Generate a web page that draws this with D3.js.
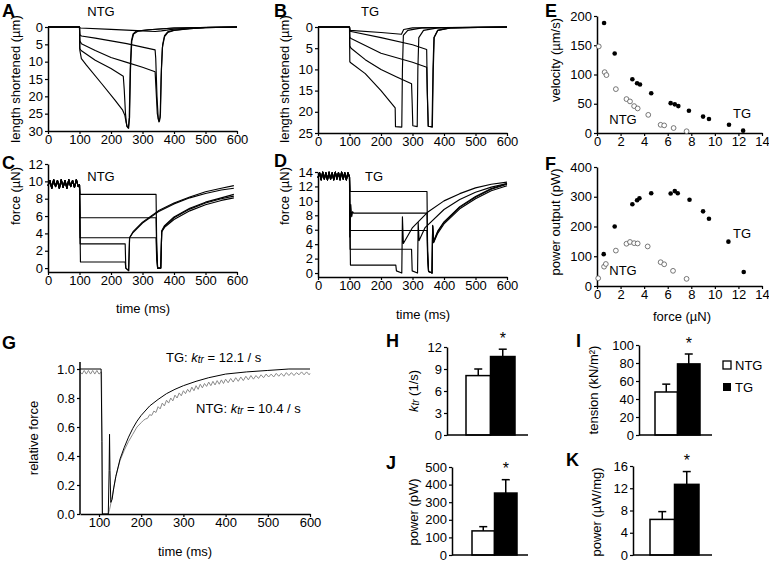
<!DOCTYPE html>
<html><head><meta charset="utf-8">
<script src="https://cdn.jsdelivr.net/npm/d3@7/dist/d3.min.js"></script>
<style>
body{margin:0;background:#fff}
svg text{font-family:"Liberation Sans",Arial,Helvetica,sans-serif;fill:#000}
</style></head><body>
<svg id="fig" width="769" height="564"></svg>
<script>
// ---------------- DATA ----------------
const timeTicks = [0,100,200,300,400,500,600];
const lengthTicksA = [0,5,10,15,20,25,30];
const lengthTicksB = [0,5,10,15,20,25];
const forceTicksC = [0,2,4,6,8,10,12];
const forceTicksD = [0,2,4,6,8,10,12,14];
const forceTicksEF = [0,2,4,6,8,10,12,14];
const velocityTicks = [0,50,100,150,200];
const powerTicks = [0,100,200,300,400];
const relTicks = [0,0.2,0.4,0.6,0.8,1.0];
const gTimeTicks = [100,200,300,400,500,600];

// A: NTG length shortened traces [ms, µm]
const ntgLength1 = [[0,0],[100,0],[102,0.3],[200,0.7],[300,1.1],[340,1.3],[360,1.1],[400,0.6],[450,0.3],[500,0.1],[600,0]];
const ntgLength2 = [[0,0],[100,0],[101,2.2],[106,2.6],[150,3.2],[200,4.0],[250,4.8],[300,5.8],[340,6.6],[342,9],[346,20],[350,26.5],[354,27.2],[357,25],[360,12],[364,5],[370,2.5],[380,1.4],[400,0.9],[450,0.5],[500,0.2],[600,0]];
const ntgLength3 = [[0,0],[100,0],[101,4],[106,4.8],[150,6.8],[200,8.8],[250,10.2],[300,11.6],[340,12.9],[343,18],[347,25],[352,27.4],[356,26],[359,15],[363,6],[370,2.8],[380,1.6],[400,1.0],[450,0.5],[500,0.2],[600,0]];
const ntgLength4 = [[0,0],[100,0],[101,6.2],[105,6.8],[150,9.6],[200,12.0],[239,14.2],[242,18],[246,25],[250,28.6],[255,29.2],[258,26],[261,12],[265,4],[270,2],[280,1.2],[320,0.8],[400,0.3],[600,0]];
const ntgLength5 = [[0,0],[100,0],[101,6.7],[106,9.1],[122,11],[170,16.3],[212,21],[237,24],[244,25.5],[248,27.5],[252,28.8],[256,29.2],[259,26],[262,12],[266,4],[272,2],[285,1.2],[320,0.8],[400,0.3],[600,0]];

// B: TG length shortened traces
const tgLength1 = [[0,0],[100,0],[102,0.8],[200,1.3],[265,1.7],[272,0.6],[300,0.2],[600,0]];
const tgLength2 = [[0,0],[100,0],[101,1.0],[200,2.5],[300,4.2],[345,5.3],[347,15],[350,23.4],[362,23.5],[365,10],[368,2.5],[380,0.8],[420,0.2],[600,0]];
const tgLength3 = [[0,0],[100,0],[101,2.5],[105,2.7],[200,6.2],[300,8.3],[345,9.5],[347,16],[350,23.4],[363,23.6],[366,10],[369,2.5],[380,0.8],[420,0.2],[600,0]];
const tgLength4 = [[0,0],[100,0],[101,4.5],[105,5],[150,7.7],[200,10.0],[250,11.8],[297,13.4],[299,18],[301,23.3],[315,23.5],[317,10],[320,2.5],[335,0.8],[380,0.2],[600,0]];
const tgLength5 = [[0,0],[100,0],[101,8.2],[105,8.5],[150,11],[200,15],[245,19.1],[246,23.5],[266,23.6],[268,10],[271,2],[285,0.8],[330,0.2],[600,0]];

// C: NTG force traces [ms, µN]
const ntgPre = [[0,9.5],[6,10.1],[12,9.2],[18,10.2],[24,9.4],[30,10.1],[36,9.2],[42,10.2],[48,9.3],[54,10.1],[60,9.2],[66,10.2],[72,9.4],[78,10.1],[84,9.3],[90,10.2],[96,9.4],[100,9.6]];
const ntgForce1 = [[102,8.5],[343,8.5],[345,3],[348,0],[358,0],[361,4.2],[370,4.8],[400,5.8],[450,6.8],[500,7.5],[550,8.0],[590,8.3]];
const ntgForce2 = [[102,5.8],[343,5.8],[345,2],[348,0],[358,0],[361,4.2],[370,4.7],[400,5.6],[450,6.6],[500,7.3],[550,7.8],[590,8.1]];
const ntgForce3 = [[102,3.5],[343,3.5],[345,1],[348,0],[358,0],[361,4.3],[370,4.9],[400,5.9],[450,6.9],[500,7.6],[550,8.1],[590,8.5]];
const ntgForce4 = [[102,2.8],[245,2.8],[247,0],[256,-0.3],[259,3.5],[270,4.2],[300,5.3],[350,6.6],[400,7.5],[450,8.2],[500,8.8],[550,9.2],[590,9.5]];
const ntgForce5 = [[103,0.7],[245,0.7],[247,0],[256,-0.3],[259,3.5],[270,4.1],[300,5.2],[350,6.5],[400,7.4],[450,8.1],[500,8.6],[550,9.0],[590,9.2]];

// D: TG force traces
const tgPre = [[0,13.2],[5,13.9],[10,12.9],[15,14],[20,13],[25,13.9],[30,12.9],[35,14],[40,13],[45,13.9],[50,12.9],[55,14],[60,13],[65,13.9],[70,12.9],[75,14],[80,13],[85,13.9],[90,12.9],[95,13.9],[100,13.3]];
const tgForce1 = [[102,11.3],[346,11.3],[348,3],[351,0.2],[362,0],[364,6.5],[367,4.2],[380,5.5],[400,6.8],[450,8.9],[500,10.3],[550,11.4],[600,12.1]];
const tgForce2 = [[101,5],[104,9.5],[107,7.8],[110,8.5],[113,8.3],[346,8.3],[348,3],[351,0.2],[362,0],[364,6.5],[367,4.3],[380,5.7],[400,7.0],[450,9.1],[500,10.5],[550,11.6],[600,12.3]];
const tgForce3 = [[102,5.9],[346,5.9],[348,2],[351,0.2],[362,0],[364,6.6],[367,4.4],[380,5.8],[400,7.1],[450,9.2],[500,10.6],[550,11.7],[600,12.4]];
const tgForce4 = [[102,3.3],[297,3.3],[299,0.3],[316,0],[318,7],[321,4.5],[340,6.3],[400,8.8],[450,10.2],[500,11.2],[550,11.9],[600,12.4]];
const tgForce5 = [[103,1.1],[247,1.1],[249,0.3],[266,0],[268,7.8],[271,4.1],[300,6.3],[350,8.5],[400,10.0],[450,11.0],[500,11.8],[550,12.3],[600,12.6]];

// E/F: force-velocity & force-power
const tgForce = [0.6,1.5,3.0,3.4,3.65,4.6,6.25,6.6,6.9,7.8,9.0,9.5,11.2,12.4];
const tgVelocity = [188,136,92,85,83,68,51,49,46,38,28,24,14,4];
const ntgForcePts = [0.15,0.65,0.8,1.6,2.5,2.8,3.15,3.45,4.35,5.4,5.7,6.5,7.6];
const ntgVelocity = [148,104,99,75,58,54,46,42,31,14,13,8.5,3];
const tgPowerForce = [0.57,1.5,3.0,3.4,3.6,4.6,6.25,6.6,6.85,7.85,9.0,9.5,11.15,12.45];
const tgPower = [107,200,275,288,295,312,311,319,312,290,251,226,149,47];
const ntgPowerForce = [0.1,0.6,0.75,1.6,2.5,2.8,3.15,3.45,4.3,5.4,5.7,6.45,7.6];
const ntgPower = [26,65,74,119,142,148,144,143,133,80,73,51,24];

// G: relative force redevelopment
const gTG = [[55,1.0],[105,1.0],[107,0.5],[108,0.0],[122,0.0],[124,0.3],[125,0.55],[126,0.3],[128,0.08],[131,0.1],[135,0.18],[140,0.26],[150,0.38],[160,0.46],[170,0.53],[180,0.59],[190,0.64],[200,0.68],[220,0.745],[240,0.79],[260,0.83],[280,0.86],[300,0.885],[330,0.915],[360,0.94],[400,0.965],[450,0.98],[500,0.99],[550,1.0],[600,1.0]];
const gNTG = [[55,0.98],[60,0.965],[65,0.99],[70,0.965],[75,0.99],[80,0.965],[85,0.99],[90,0.965],[95,0.99],[100,0.965],[106,0.98],[108,0],[122,0],[125,0.03],[130,0.1],[140,0.26],[150,0.37],[160,0.44],[170,0.5],[180,0.55],[190,0.6],[200,0.63],[205,0.645],[210,0.655],[215,0.66],[220,0.685],[225,0.68],[230,0.71],[235,0.70],[240,0.74],[245,0.725],[250,0.765],[255,0.745],[260,0.785],[265,0.765],[270,0.80],[275,0.78],[280,0.82],[285,0.80],[290,0.835],[295,0.815],[300,0.85],[305,0.83],[310,0.86],[315,0.84],[320,0.875],[325,0.85],[330,0.885],[335,0.86],[340,0.895],[345,0.87],[350,0.90],[355,0.88],[360,0.91],[365,0.885],[370,0.915],[375,0.89],[380,0.92],[385,0.895],[390,0.925],[395,0.90],[400,0.93],[406,0.905],[412,0.935],[418,0.91],[424,0.94],[430,0.915],[436,0.945],[442,0.92],[448,0.95],[454,0.925],[460,0.955],[466,0.93],[472,0.955],[478,0.935],[484,0.96],[490,0.94],[496,0.965],[502,0.945],[508,0.965],[514,0.945],[520,0.97],[526,0.95],[532,0.97],[538,0.95],[544,0.975],[550,0.955],[556,0.975],[562,0.955],[568,0.975],[574,0.96],[580,0.98],[586,0.96],[592,0.98],[598,0.96],[600,0.97]];

// H-K: bar charts
const groups = ["NTG","TG"];
const ktrMean = [8.1,10.7], ktrErr = [0.9,1.0];
const tensionMean = [47.8,79], tensionErr = [8.7,11];
const powerMean = [137,352], powerErr = [24,76];
const powerMassMean = [6.4,12.7], powerMassErr = [1.4,2.3];
const ktrTicks = [0,3,6,9,12];
const tensionTicks = [0,20,40,60,80,100];
const powerBarTicks = [0,100,200,300,400,500];
const powerMassTicks = [0,4,8,12,16];

// ---------------- DRAW ----------------
const svg = d3.select("#fig");
const FS = 13;

function styleAxis(g){
  g.select(".domain").attr("stroke","#000").attr("stroke-width",1.5);
  g.selectAll(".tick line").attr("stroke","#000").attr("stroke-width",1.2);
  g.selectAll(".tick text").attr("font-size",FS).attr("fill","#000")
   .style("font-family",'"Liberation Sans",Arial,sans-serif');
}
function xAxis(scale, yPos, ticks, fmt){
  const g = svg.append("g").attr("transform",`translate(0,${yPos})`)
    .call(d3.axisBottom(scale).tickValues(ticks).tickSize(3).tickSizeOuter(0).tickPadding(1).tickFormat(fmt||d3.format("d")));
  styleAxis(g); return g;
}
function yAxis(scale, xPos, ticks, fmt){
  const g = svg.append("g").attr("transform",`translate(${xPos},0)`)
    .call(d3.axisLeft(scale).tickValues(ticks).tickSize(3).tickSizeOuter(0).tickPadding(2).tickFormat(fmt||d3.format("d")));
  styleAxis(g); return g;
}
function label(txt,x,y,opts={}){
  const t = svg.append("text").attr("x",x).attr("y",y).attr("font-size",opts.size||FS)
    .attr("text-anchor",opts.anchor||"middle").attr("dominant-baseline","central");
  if(opts.bold) t.attr("font-weight","bold");
  if(opts.rotate) t.attr("transform",`rotate(-90,${x},${y})`);
  t.text(txt); return t;
}
function panel(letter,x,y){ svg.append("text").attr("x",x).attr("y",y).attr("font-size",18).attr("font-weight","bold").text(letter); }
function traces(list, xs, ys, color, w){
  const line = d3.line().x(d=>xs(d[0])).y(d=>ys(d[1]));
  list.forEach(tr=>svg.append("path").attr("d",line(tr)).attr("fill","none").attr("stroke",color||"#000").attr("stroke-width",w||1.15).attr("stroke-linejoin","round"));
}

// Panel A
{
  const x = d3.scaleLinear([0,600],[48,237]);
  const y = d3.scaleLinear([0,30],[27,131]);
  traces([ntgLength1,ntgLength2,ntgLength3,ntgLength4,ntgLength5],x,y);
  xAxis(x,131,timeTicks); yAxis(y,48,lengthTicksA);
  panel("A",2,17); label("NTG",101,11,{size:13});
  label("length shortened (\u00b5m)",15,79,{rotate:true});
}
// Panel B
{
  const x = d3.scaleLinear([0,600],[318,507]);
  const y = d3.scaleLinear([0,25],[27,133]);
  traces([tgLength1,tgLength2,tgLength3,tgLength4,tgLength5],x,y);
  xAxis(x,133,timeTicks); yAxis(y,318,lengthTicksB);
  panel("B",274,17); label("TG",370,11,{size:13});
  label("length shortened (\u00b5m)",284,79,{rotate:true});
}
// Panel C
{
  const x = d3.scaleLinear([0,600],[48,237]);
  const y = d3.scaleLinear([-0.45,12],[272,164]);
  const all = [ntgForce1,ntgForce2,ntgForce3,ntgForce4,ntgForce5].map(t=>ntgPre.concat(t));
  traces(all,x,y);
  xAxis(x,272,timeTicks); yAxis(y,48,forceTicksC);
  panel("C",2,169); label("NTG",101,176,{size:13});
  label("force (\u00b5N)",15,196,{rotate:true});
  label("time (ms)",143,308);
}
// Panel D
{
  const x = d3.scaleLinear([0,600],[318,507]);
  const y = d3.scaleLinear([-0.55,14],[277,172]);
  const all = [tgForce1,tgForce2,tgForce3,tgForce4,tgForce5].map(t=>tgPre.concat(t));
  traces(all,x,y);
  xAxis(x,277,timeTicks); yAxis(y,318,forceTicksD);
  panel("D",274,167); label("TG",374,176,{size:13});
  label("force (\u00b5N)",284,196,{rotate:true});
  label("time (ms)",423,314);
}
// Panel E
{
  const x = d3.scaleLinear([0,14],[597,762]);
  const y = d3.scaleLinear([0,200],[133,16]);
  xAxis(x,133,forceTicksEF); yAxis(y,597,velocityTicks);
  svg.append("g").selectAll("circle").data(d3.range(tgForce.length)).join("circle")
    .attr("cx",i=>x(tgForce[i])).attr("cy",i=>y(tgVelocity[i])).attr("r",2.3).attr("fill","#000");
  svg.append("g").selectAll("circle").data(d3.range(ntgForcePts.length)).join("circle")
    .attr("cx",i=>x(ntgForcePts[i])).attr("cy",i=>y(ntgVelocity[i])).attr("r",2.4).attr("fill","#fff").attr("stroke","#555").attr("stroke-width",0.8);
  panel("E",545,17);
  label("velocity (\u00b5m/s)",555,60,{rotate:true});
  label("TG",742,113,{size:13}); label("NTG",623,119,{size:13});
}
// Panel F
{
  const x = d3.scaleLinear([0,14],[597,762]);
  const y = d3.scaleLinear([0,400],[286,167]);
  xAxis(x,286,forceTicksEF); yAxis(y,597,powerTicks);
  svg.append("g").selectAll("circle").data(d3.range(tgPowerForce.length)).join("circle")
    .attr("cx",i=>x(tgPowerForce[i])).attr("cy",i=>y(tgPower[i])).attr("r",2.3).attr("fill","#000");
  svg.append("g").selectAll("circle").data(d3.range(ntgPowerForce.length)).join("circle")
    .attr("cx",i=>x(ntgPowerForce[i])).attr("cy",i=>y(ntgPower[i])).attr("r",2.4).attr("fill","#fff").attr("stroke","#555").attr("stroke-width",0.8);
  panel("F",545,170);
  label("power output (pW)",555,222,{rotate:true});
  label("force (\u00b5N)",682,316);
  label("TG",742,233,{size:13}); label("NTG",623,270,{size:13});
}
// Panel G
{
  const x = d3.scaleLinear([55,600],[80,310]);
  const y = d3.scaleLinear([0,1],[514,369]);
  traces([gNTG],x,y,"#8a8a8a",1);
  traces([gTG],x,y,"#000",1);
  xAxis(x,514,gTimeTicks);
  svg.append("line").attr("x1",80).attr("x2",80).attr("y1",514).attr("y2",362).attr("stroke","#000").attr("stroke-width",1.5);
  yAxis(y,80,relTicks,d3.format(".1f")).select(".domain").remove();
  panel("G",2,349);
  label("relative force",33,438,{rotate:true});
  label("time (ms)",185,551);
  const t1 = svg.append("text").attr("x",166).attr("y",357).attr("font-size",13).attr("dominant-baseline","central");
  t1.append("tspan").text("TG: ");
  t1.append("tspan").attr("font-style","italic").text("k");
  t1.append("tspan").attr("font-style","italic").attr("font-size",10).attr("dy",2).text("tr");
  t1.append("tspan").attr("dy",-2).text(" = 12.1 / s");
  const t2 = svg.append("text").attr("x",196).attr("y",408).attr("font-size",13).attr("dominant-baseline","central");
  t2.append("tspan").text("NTG: ");
  t2.append("tspan").attr("font-style","italic").text("k");
  t2.append("tspan").attr("font-style","italic").attr("font-size",10).attr("dy",2).text("tr");
  t2.append("tspan").attr("dy",-2).text(" = 10.4 / s");
}
// Bar panels
function barPanel(opt){
  const y = d3.scaleLinear([0,opt.max],[opt.y0,opt.y1]);
  const x = d3.scaleBand(groups,[opt.bx0,opt.bx1]).padding(0);
  groups.forEach((gname,i)=>{
    const cx = x(gname)+x.bandwidth()/2;
    const top = y(opt.mean[i]+opt.err[i]);
    svg.append("line").attr("x1",cx).attr("x2",cx).attr("y1",y(opt.mean[i])).attr("y2",top).attr("stroke","#000").attr("stroke-width",1.5);
    svg.append("line").attr("x1",cx-4).attr("x2",cx+4).attr("y1",top).attr("y2",top).attr("stroke","#000").attr("stroke-width",1.5);
  });
  svg.append("g").selectAll("rect").data(groups).join("rect")
    .attr("x",d=>x(d)).attr("width",x.bandwidth())
    .attr("y",(d,i)=>y(opt.mean[i])).attr("height",(d,i)=>opt.y0-y(opt.mean[i]))
    .attr("fill",(d,i)=>i===0?"#fff":"#000").attr("stroke","#000").attr("stroke-width",1.5);
  yAxis(y,opt.ax,opt.ticks);
  svg.append("line").attr("x1",opt.ax).attr("x2",opt.axEnd).attr("y1",opt.y0).attr("y2",opt.y0).attr("stroke","#000").attr("stroke-width",1.5);
  const sx = x("TG")+x.bandwidth()/2;
  label("*",sx,y(opt.mean[1]+opt.err[1])-11,{size:16});
  return {x,y};
}
barPanel({max:12,y0:435,y1:347,bx0:466,bx1:515,ax:447,axEnd:528,ticks:ktrTicks,mean:ktrMean,err:ktrErr});
panel("H",386,347);
{
  const t = svg.append("text").attr("font-size",FS).attr("text-anchor","middle").attr("dominant-baseline","central")
    .attr("transform","translate(413,391) rotate(-90)");
  t.append("tspan").attr("font-style","italic").text("k");
  t.append("tspan").attr("font-style","italic").attr("font-size",10).attr("dy",2).text("tr");
  t.append("tspan").attr("dy",-2).text(" (1/s)");
}
barPanel({max:100,y0:435,y1:345,bx0:655,bx1:700,ax:639,axEnd:712,ticks:tensionTicks,mean:tensionMean,err:tensionErr});
panel("I",576,347);
label("tension (kN/m\u00b2)",593,390,{rotate:true});
barPanel({max:500,y0:555,y1:467,bx0:472,bx1:517,ax:452,axEnd:528,ticks:powerBarTicks,mean:powerMean,err:powerErr});
panel("J",386,469);
label("power (pW)",413,512,{rotate:true});
barPanel({max:16,y0:555,y1:466,bx0:650,bx1:699,ax:633,axEnd:712,ticks:powerMassTicks,mean:powerMassMean,err:powerMassErr});
panel("K",566,466);
label("power (\u00b5W/mg)",596,512,{rotate:true});
// legend
svg.append("rect").attr("x",723).attr("y",361).attr("width",8).attr("height",8).attr("fill","#fff").attr("stroke","#000").attr("stroke-width",1.3);
svg.append("rect").attr("x",723).attr("y",383).attr("width",8).attr("height",8).attr("fill","#000");
label(groups[0],735,365,{anchor:"start",size:13});
label(groups[1],735,387,{anchor:"start",size:13});
</script>
</body></html>
